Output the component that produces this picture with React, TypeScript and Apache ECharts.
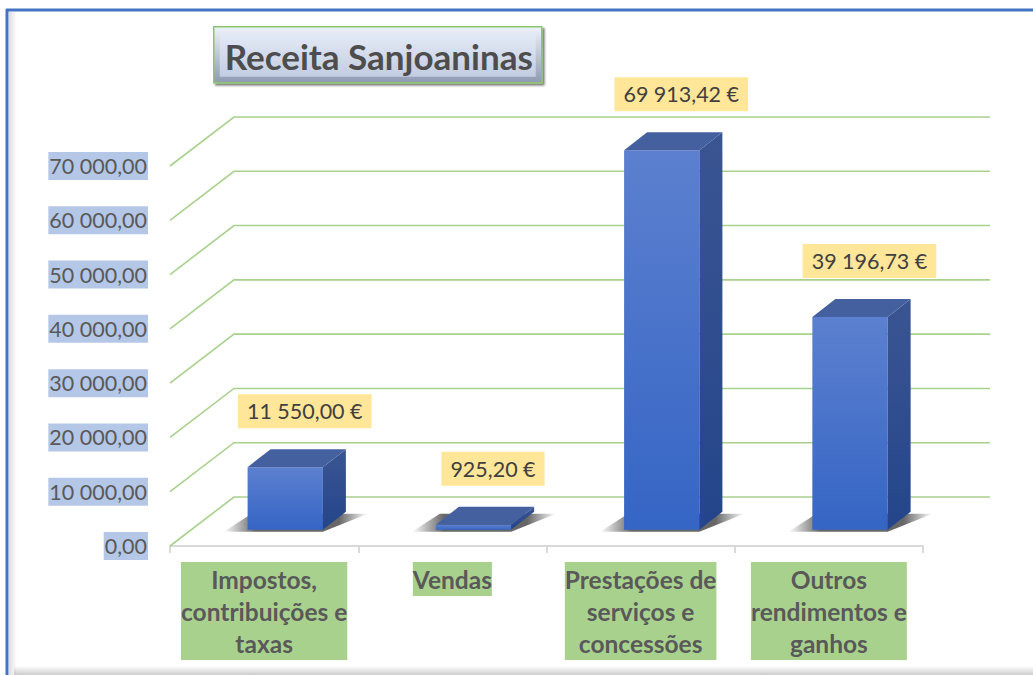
import React, { useEffect, useRef } from "react";
import * as echarts from "echarts";

const chartTitle = "Receita Sanjoaninas";
const categories = [
  "Impostos, contribuições e taxas",
  "Vendas",
  "Prestações de serviços e concessões",
  "Outros rendimentos e ganhos",
];
const values = [11550.0, 925.2, 69913.42, 39196.73];
const yTicks = [0, 10000, 20000, 30000, 40000, 50000, 60000, 70000];

const FONT = "Lato, 'Open Sans', sans-serif";
const CAT_FONT_SIZE = 24.5;
const FLOOR_DX = 64;
const FLOOR_DY = 49;
const BACK_EXTRA = 67;
const BAR_DX = 23;
const BAR_DY = 18;
const BAR_POS = 0.33;

function fmtNum(v: number): string {
  const [i, d] = Math.abs(v).toFixed(2).split(".");
  return i.replace(/\B(?=(\d{3})+(?!\d))/g, " ") + "," + d;
}

let measureCtx: CanvasRenderingContext2D | null = null;
function measure(s: string, font: string): number {
  if (!measureCtx) measureCtx = document.createElement("canvas").getContext("2d");
  measureCtx!.font = font;
  return measureCtx!.measureText(s).width;
}
function wrap(s: string, font: string, maxW: number): string {
  const words = s.split(" ");
  const lines: string[] = [];
  let cur = "";
  for (const w of words) {
    const t = cur ? cur + " " + w : w;
    if (cur && measure(t, font) > maxW) {
      lines.push(cur);
      cur = w;
    } else cur = t;
  }
  if (cur) lines.push(cur);
  return lines.join("\n");
}

export default function App() {
  const ref = useRef<HTMLDivElement>(null);
  useEffect(() => {
    const chart = echarts.init(ref.current!, undefined, { renderer: "svg" });
    const catFont = `bold ${CAT_FONT_SIZE}px Lato`;

    const option: any = {
      animation: false,
      backgroundColor: "#ffffff",
      grid: { left: 170, right: 110, top: 166, bottom: 129 },
      xAxis: {
        type: "category",
        data: categories,
        axisLine: { show: true, lineStyle: { color: "#d9d9d9", width: 2 } },
        axisTick: { show: true, length: 7, lineStyle: { color: "#d9d9d9", width: 2 } },
        axisLabel: {
          interval: 0,
          margin: 16,
          formatter: (v: string) => wrap(v, catFont, 180),
          fontFamily: FONT,
          fontWeight: "bold",
          fontSize: CAT_FONT_SIZE,
          lineHeight: 32,
          color: "#595959",
          backgroundColor: "#a9d18e",
          padding: [1, 0],
        },
      },
      yAxis: {
        type: "value",
        min: 0,
        max: 70000,
        interval: 10000,
        axisLine: { show: false },
        axisTick: { show: false },
        splitLine: { show: false },
        axisLabel: {
          margin: 22,
          formatter: (v: number) => fmtNum(v),
          fontFamily: FONT,
          fontSize: 21.5,
          color: "#595959",
          backgroundColor: "#b4c7e7",
          padding: [3, 1],
        },
      },
      graphic: [
        {
          type: "rect",
          shape: { x: 9, y: 12, width: 8, height: 663 },
          style: {
            fill: new echarts.graphic.LinearGradient(0, 0, 1, 0, [
              { offset: 0, color: "rgba(0,0,0,0.13)" },
              { offset: 1, color: "rgba(0,0,0,0)" },
            ]),
          },
          silent: true,
        },
        {
          type: "rect",
          shape: { x: 14, y: 666, width: 1019, height: 9 },
          style: {
            fill: new echarts.graphic.LinearGradient(0, 0, 0, 1, [
              { offset: 0, color: "rgba(0,0,0,0)" },
              { offset: 1, color: "rgba(0,0,0,0.2)" },
            ]),
          },
          silent: true,
        },
        {
          type: "line",
          shape: { x1: 6, y1: 10, x2: 1033, y2: 10 },
          style: { stroke: "#4472c4", lineWidth: 3 },
          silent: true,
        },
        {
          type: "line",
          shape: { x1: 7, y1: 9, x2: 7, y2: 675 },
          style: { stroke: "#4472c4", lineWidth: 3 },
          silent: true,
        },
        {
          type: "group",
          left: 213,
          top: 26,
          children: [
            {
              type: "rect",
              shape: { x: 0, y: 0, width: 328, height: 56 },
              style: {
                fill: new echarts.graphic.LinearGradient(0, 0, 0, 1, [
                  { offset: 0, color: "#eef2fa" },
                  { offset: 1, color: "#8e9ab3" },
                ]),
                stroke: "#8fc46e",
                lineWidth: 1.5,
                shadowColor: "rgba(0,0,0,0.55)",
                shadowOffsetX: 2,
                shadowOffsetY: 2,
                shadowBlur: 2,
              },
            },
            {
              type: "rect",
              shape: { x: 6, y: 6, width: 316, height: 44 },
              style: {
                fill: new echarts.graphic.LinearGradient(0, 0, 0, 1, [
                  { offset: 0, color: "#e4eaf6" },
                  { offset: 1, color: "#c3cde1" },
                ]),
              },
            },
            {
              type: "text",
              x: 165,
              y: 29,
              style: {
                text: chartTitle,
                fill: "#4d4d4d",
                fontFamily: FONT,
                fontWeight: "bold",
                fontSize: 35,
                align: "center",
                verticalAlign: "middle",
                textAlign: "center",
                textVerticalAlign: "middle",
              },
            },
          ],
        },
      ],
      series: [
        {
          type: "custom",
          z: 1,
          silent: true,
          clip: false,
          data: yTicks.map((v) => [0, v]),
          renderItem: (params: any, api: any) => {
            const cs = params.coordSys;
            const y = api.coord([0, api.value(1)])[1];
            const x0 = cs.x;
            const x1 = cs.x + cs.width;
            return {
              type: "polyline",
              shape: {
                points: [
                  [x0, y],
                  [x0 + FLOOR_DX, y - FLOOR_DY],
                  [x1 + BACK_EXTRA, y - FLOOR_DY],
                ],
              },
              style: { stroke: "#a9d18e", lineWidth: 1.6, fill: "none" },
            };
          },
        },
        {
          type: "custom",
          z: 3,
          silent: true,
          clip: false,
          data: values.map((v, i) => [i, v]),
          renderItem: (params: any, api: any) => {
            const idx = api.value(0);
            const val = api.value(1);
            const top = api.coord([idx, val]);
            const base = api.coord([idx, 0]);
            const band = api.size([1, 0])[0];
            const w = band * 0.4;
            const ox = FLOOR_DX * BAR_POS;
            const oy = FLOOR_DY * BAR_POS;
            const x1 = top[0] - w / 2 + ox;
            const x2 = x1 + w;
            const yT = top[1] - oy;
            const yB = base[1] - oy;
            const h = Math.max(yB - yT, 0);
            const shadowFill = new echarts.graphic.LinearGradient(0, 0, 1, 0, [
              { offset: 0, color: "rgba(0,0,0,0)" },
              { offset: 0.22, color: "rgba(0,0,0,0.7)" },
              { offset: 0.8, color: "rgba(0,0,0,0.7)" },
              { offset: 1, color: "rgba(0,0,0,0)" },
            ]);
            return {
              type: "group",
              children: [
                {
                  type: "polygon",
                  shape: {
                    points: [
                      [x1 - 24, yB + 2],
                      [x2, yB + 2],
                      [x2 + BAR_DX + 22, yB - BAR_DY + 2],
                      [x1 + 4, yB - BAR_DY + 2],
                    ],
                  },
                  style: { fill: shadowFill, opacity: 0.85 },
                },
                {
                  type: "rect",
                  shape: { x: x1, y: yT, width: w, height: h },
                  style: {
                    fill: new echarts.graphic.LinearGradient(0, 0, 0, 1, [
                      { offset: 0, color: "#5c80cf" },
                      { offset: 1, color: "#3565c5" },
                    ]),
                  },
                },
                {
                  type: "polygon",
                  shape: {
                    points: [
                      [x2, yT],
                      [x2 + BAR_DX, yT - BAR_DY],
                      [x2 + BAR_DX, yB - BAR_DY],
                      [x2, yB],
                    ],
                  },
                  style: {
                    fill: new echarts.graphic.LinearGradient(0, 0, 0, 1, [
                      { offset: 0, color: "#3b5592" },
                      { offset: 1, color: "#24458b" },
                    ]),
                  },
                },
                {
                  type: "polygon",
                  shape: {
                    points: [
                      [x1, yT],
                      [x1 + BAR_DX, yT - BAR_DY],
                      [x2 + BAR_DX, yT - BAR_DY],
                      [x2, yT],
                    ],
                  },
                  style: { fill: "#44609f" },
                },
                {
                  type: "text",
                  x: x1 + (w + BAR_DX) / 2 + 8,
                  y: yT - BAR_DY - 38,
                  style: {
                    text: fmtNum(val) + " €",
                    fill: "#404040",
                    fontFamily: FONT,
                    fontSize: 21.5,
                    backgroundColor: "#ffe699",
                    padding: [6, 9],
                    align: "center",
                    verticalAlign: "middle",
                    textAlign: "center",
                    textVerticalAlign: "middle",
                  },
                },
              ],
            };
          },
        },
      ],
    };
    chart.setOption(option);
    return () => chart.dispose();
  }, []);
  return (
    <div
      ref={ref}
      style={{ position: "fixed", left: 0, top: 0, width: 1033, height: 675 }}
    />
  );
}
